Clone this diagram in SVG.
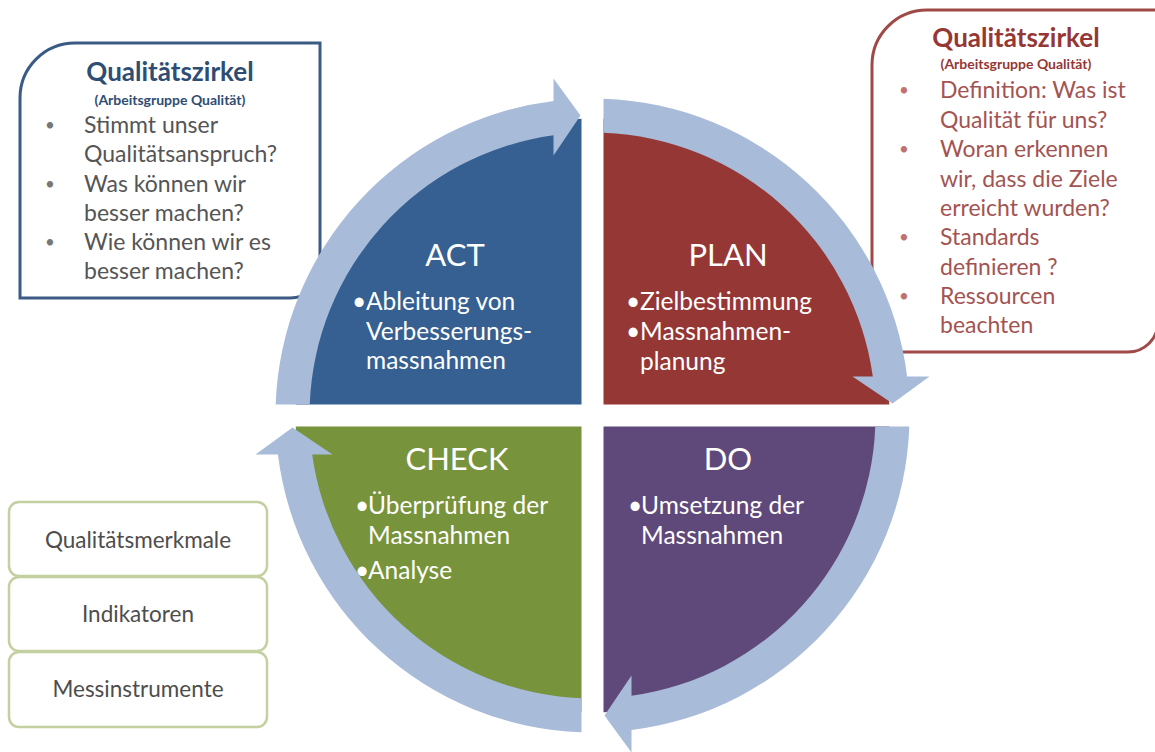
<svg xmlns="http://www.w3.org/2000/svg" width="1155" height="752" viewBox="0 0 1155 752">
<style>
  .box { fill: #FFFFFF; stroke-width: 3; }
  .t { font-family: Lato, "Open Sans", "Liberation Sans", sans-serif; }
  .ttl { font-weight: bold; font-size: 26px; }
  .sub { font-weight: bold; font-size: 14px; }
  .body { font-size: 23px; }
  .bul { font-size: 17px; }
  .qt { font-size: 31px; fill: #FFFFFF; text-anchor: middle; }
  .qb { font-size: 24.5px; fill: #FFFFFF; }
  .ring { fill: #A8BBD9; }
  .mbox { fill: #FFFFFF; stroke: #C3D09F; stroke-width: 2.5; }
  .mtxt { font-size: 22.5px; fill: #4D4D4D; text-anchor: middle; }
</style>

<!-- Left callout (ACT) -->
<g id="callout-act">
  <path class="box" stroke="#3B5B84" d="M 75 43 L 320 43 L 320 268 A 30 30 0 0 1 290 298 L 20 298 L 20 98 A 55 55 0 0 1 75 43 Z"/>
  <g class="t">
    <text class="ttl" x="170" y="81" text-anchor="middle" fill="#2E4D73">Qualitätszirkel</text>
    <text class="sub" x="170" y="105" text-anchor="middle" fill="#2E4D73">(Arbeitsgruppe Qualität)</text>
    <g fill="#555555">
      <text class="bul" x="45" y="131" fill="#777777">•</text>
      <text class="body" x="84" y="133">Stimmt unser</text>
      <text class="body" x="84" y="162">Qualitätsanspruch?</text>
      <text class="bul" x="45" y="190" fill="#777777">•</text>
      <text class="body" x="84" y="192">Was können wir</text>
      <text class="body" x="84" y="221">besser machen?</text>
      <text class="bul" x="45" y="248" fill="#777777">•</text>
      <text class="body" x="84" y="250">Wie können wir es</text>
      <text class="body" x="84" y="279">besser machen?</text>
    </g>
  </g>
</g>

<!-- Right callout (PLAN) -->
<g id="callout-plan">
  <path class="box" stroke="#A04A48" d="M 927 10 L 1158 10 L 1158 322 A 30 30 0 0 1 1128 352 L 872 352 L 872 65 A 55 55 0 0 1 927 10 Z"/>
  <g class="t">
    <text class="ttl" x="1016" y="47" text-anchor="middle" fill="#953735">Qualitätszirkel</text>
    <text class="sub" x="1016" y="69" text-anchor="middle" fill="#953735">(Arbeitsgruppe Qualität)</text>
    <g fill="#A35452">
      <text class="bul" x="899" y="96" fill="#C07270">•</text>
      <text class="body" x="940" y="98">Definition: Was ist</text>
      <text class="body" x="940" y="128">Qualität für uns?</text>
      <text class="bul" x="899" y="155" fill="#C07270">•</text>
      <text class="body" x="940" y="157">Woran erkennen</text>
      <text class="body" x="940" y="187">wir, dass die Ziele</text>
      <text class="body" x="940" y="216">erreicht wurden?</text>
      <text class="bul" x="899" y="243" fill="#C07270">•</text>
      <text class="body" x="940" y="245">Standards</text>
      <text class="body" x="940" y="275">definieren ?</text>
      <text class="bul" x="899" y="302" fill="#C07270">•</text>
      <text class="body" x="940" y="304">Ressourcen</text>
      <text class="body" x="940" y="333">beachten</text>
    </g>
  </g>
</g>

<!-- Measures list -->
<g id="measure-merkmale">
  <rect class="mbox" x="9" y="502" width="258" height="74" rx="10"/>
  <text class="t mtxt" x="138" y="548">Qualitätsmerkmale</text>
</g>
<g id="measure-indikatoren">
  <rect class="mbox" x="9" y="577" width="258" height="74" rx="10"/>
  <text class="t mtxt" x="138" y="622">Indikatoren</text>
</g>
<g id="measure-messinstrumente">
  <rect class="mbox" x="9" y="652" width="258" height="75" rx="10"/>
  <text class="t mtxt" x="138" y="697">Messinstrumente</text>
</g>

<!-- Quadrants -->
<g id="act">
  <path fill="#366092" transform="translate(592.5 415.5)" d="M -11 -11 L -11 -296.8 A 297 297 0 0 0 -296.8 -11 Z"/>
  <g class="t">
    <text class="qt" x="455" y="266">ACT</text>
    <text class="qb" x="352" y="310">•</text>
    <text class="qb" x="366" y="310">Ableitung von</text>
    <text class="qb" x="366" y="340">Verbesserungs-</text>
    <text class="qb" x="366" y="369">massnahmen</text>
  </g>
</g>
<g id="plan">
  <path fill="#953735" transform="translate(592.5 415.5)" d="M 11 -11 L 11 -296.8 A 297 297 0 0 1 296.8 -11 Z"/>
  <g class="t">
    <text class="qt" x="728" y="266">PLAN</text>
    <text class="qb" x="626" y="310">•</text>
    <text class="qb" x="640" y="310">Zielbestimmung</text>
    <text class="qb" x="626" y="340">•</text>
    <text class="qb" x="640" y="340">Massnahmen-</text>
    <text class="qb" x="640" y="370">planung</text>
  </g>
</g>
<g id="do">
  <path fill="#5F497A" transform="translate(592.5 415.5)" d="M 11 11 L 296.8 11 A 297 297 0 0 1 11 296.8 Z"/>
  <g class="t">
    <text class="qt" x="728" y="470">DO</text>
    <text class="qb" x="628" y="514">•</text>
    <text class="qb" x="641" y="514">Umsetzung der</text>
    <text class="qb" x="641" y="544">Massnahmen</text>
  </g>
</g>
<g id="check">
  <path fill="#77933C" transform="translate(592.5 415.5)" d="M -11 11 L -11 296.8 A 297 297 0 0 1 -296.8 11 Z"/>
  <g class="t">
    <text class="qt" x="457" y="470">CHECK</text>
    <text class="qb" x="355" y="514">•</text>
    <text class="qb" x="368" y="514">Überprüfung der</text>
    <text class="qb" x="368" y="544">Massnahmen</text>
    <text class="qb" x="355" y="579">•</text>
    <text class="qb" x="368" y="579">Analyse</text>
  </g>
</g>

<!-- Connectors: circular arrows -->
<g id="connectors" transform="translate(592.5 415.5)">
  <path class="ring" d="M -316.81 -11 A 317 317 0 0 1 -39 -314.59 L -39 -337 L -12 -300 L -39 -260 L -39 -280.30 A 283 283 0 0 0 -282.79 -11 Z"/>
  <path class="ring" d="M 11 -316.81 A 317 317 0 0 1 314.59 -39 L 337 -39 L 300 -12 L 260 -39 L 280.30 -39 A 283 283 0 0 0 11 -282.79 Z"/>
  <path class="ring" d="M 316.81 11 A 317 317 0 0 1 39 314.59 L 39 337 L 12 300 L 39 260 L 39 280.30 A 283 283 0 0 0 282.79 11 Z"/>
  <path class="ring" d="M -11 316.81 A 317 317 0 0 1 -314.59 39 L -337 39 L -300 12 L -260 39 L -280.30 39 A 283 283 0 0 0 -11 282.79 Z"/>
</g>
</svg>
